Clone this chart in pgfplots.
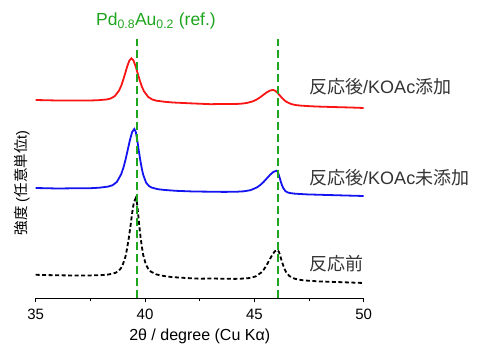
\documentclass[border=0pt]{standalone}
\usepackage{fontspec}
\setmainfont{Liberation Sans}
\newfontfamily\jp{Noto Sans CJK JP}
\usepackage{pgfplots}
\pgfplotsset{compat=1.18}
\definecolor{refgreen}{RGB}{30,165,30}
\definecolor{xred}{RGB}{250,20,20}
\definecolor{xblue}{RGB}{20,20,240}
\begin{document}
\begin{tikzpicture}
\path[use as bounding box] (-35.7pt,-46.7pt) rectangle (441.3pt,298.3pt);
\begin{axis}[
  at={(0,0)}, anchor=south west,
  scale only axis, width=328pt, height=258.8pt,
  xmin=35, xmax=50, ymin=46.7, ymax=305.5,
  axis x line*=bottom, axis y line=none,
  xtick={35,40,45,50}, minor xtick={37.5,42.5,47.5},
  tick align=outside, major tick length=4pt, minor tick length=3pt,
  x axis line style={-, line width=0.8pt},
  every tick/.style={line width=0.8pt, black},
  /pgf/number format/assume math mode=true,
  tick label style={font=\fontsize{15}{17}\selectfont},
  xticklabel style={yshift=-3.5pt},
  xlabel={2θ / degree (Cu Kα)},
  xlabel style={font=\fontsize{16}{18}\selectfont, at={(axis description cs:0.5,0)}, anchor=center, yshift=-38.5pt},
  clip=false,
]
% red: after reaction / KOAc added
\addplot[xred, line width=1.8pt] coordinates {
(35,245.0) (36,244.5) (36.72,244.5) (37.48,244.5) (37.86,244.8) (38.24,245.5) (38.43,246.5) (38.62,248.9) (38.81,254.4) (38.905,258.9) (39.0,264.9) (39.095,271.8) (39.19,278.9) (39.285,284.5) (39.38,286.7) (39.475,284.4) (39.57,278.7) (39.665,271.5) (39.76,264.5) (39.855,258.4) (39.95,253.8) (40.14,248.1) (40.33,245.5) (40.52,244.3) (40.9,243.2) (41.28,242.5) (42.04,241.7) (43,240.8) (43.45,241.0) (44.05,241.0) (44.35,241.2) (44.65,242.0) (44.95,243.8) (45.1,245.4) (45.25,247.5) (45.4,249.9) (45.55,252.4) (45.7,254.3) (45.85,255.1) (45.955,254.2) (46.06,252.1) (46.165,249.5) (46.27,246.9) (46.375,244.7) (46.48,243.0) (46.69,240.9) (46.9,239.9) (47.11,239.4) (47.53,238.8) (47.95,238.4) (48.7,237.9) (49.4,237.5) (50,237.0)
};
% blue: after reaction / no KOAc
\addplot[xblue, line width=1.8pt] coordinates {
(35,157.0) (36,156.5) (36.71,156.7) (37.51,156.8) (37.91,157.3) (38.31,158.4) (38.51,159.7) (38.71,163.0) (38.91,170.8) (39.01,177.2) (39.11,185.5) (39.21,195.2) (39.31,205.0) (39.41,213.0) (39.51,216.0) (39.58,212.9) (39.645,204.8) (39.71,194.9) (39.78,185.2) (39.85,176.7) (39.915,170.3) (40.05,162.3) (40.185,158.9) (40.32,157.3) (40.59,155.8) (40.86,155.1) (41.4,154.2) (42.21,153.5) (43,153.3) (43.62,153.1) (44.22,153.3) (44.52,153.7) (44.82,154.8) (45.12,157.6) (45.27,160.0) (45.42,163.0) (45.57,166.6) (45.72,170.2) (45.87,173.1) (46.02,174.3) (46.07,173.0) (46.12,170.0) (46.17,166.3) (46.22,162.6) (46.27,159.4) (46.32,157.0) (46.42,153.9) (46.52,152.6) (46.62,152.0) (46.82,151.4) (47.02,151.1) (47.42,150.6) (48.2,150.1) (49,149.6) (50,149.0)
};
% black dashed: before reaction
\addplot[black, line width=1.8pt, dash pattern=on 4pt off 2.5pt] coordinates {
(35,70.2) (36,69.7) (36.47,69.6) (37.4,69.5) (38.02,69.9) (38.33,70.5) (38.64,72.1) (38.795,74.0) (38.95,78.3) (39.105,88.3) (39.18,96.6) (39.26,107.3) (39.34,119.7) (39.415,132.6) (39.49,142.7) (39.57,146.7) (39.63,142.3) (39.685,131.4) (39.74,118.7) (39.80,107.0) (39.86,97.5) (39.915,90.2) (40.03,80.9) (40.145,76.2) (40.26,73.5) (40.49,70.8) (40.72,69.5) (41.18,68.0) (41.87,67.0) (42.5,66.3) (43,66.5) (44.09,66.1) (44.58,66.5) (44.825,67.1) (45.07,68.7) (45.315,72.5) (45.44,75.7) (45.56,79.9) (45.68,84.6) (45.805,89.6) (45.93,93.6) (46.05,95.1) (46.12,93.3) (46.185,89.1) (46.25,84.0) (46.32,79.5) (46.39,75.7) (46.455,72.8) (46.59,69.2) (46.725,67.3) (46.86,66.2) (47.13,65.0) (47.4,64.4) (47.94,63.6) (48.75,63.0) (50,62.0)
};
% reference lines Pd0.8Au0.2
\addplot[refgreen, line width=1.9pt, dash pattern=on 8pt off 4pt] coordinates {(39.62,46.7) (39.62,305.5)};
\addplot[refgreen, line width=1.9pt, dash pattern=on 8pt off 4pt] coordinates {(46.08,46.7) (46.08,305.5)};
% texts
\node[text=refgreen, font=\fontsize{17.5}{19}\selectfont, anchor=center] at (axis cs:40.5,324) {Pd\textsubscript{0.8}Au\textsubscript{0.2} (ref.)};
\node[anchor=west, inner sep=0pt, font=\fontsize{18}{20}\selectfont, text=black!80] at (axis cs:47.5,258.3) {{\jp 反応後}/KOAc{\jp 添加}};
\node[anchor=west, inner sep=0pt, font=\fontsize{18}{20}\selectfont, text=black!80] at (axis cs:47.5,167.5) {{\jp 反応後}/KOAc{\jp 未添加}};
\node[anchor=west, inner sep=0pt, font=\fontsize{18}{20}\selectfont, text=black!80] at (axis cs:47.5,81) {{\jp 反応前}};
\node[rotate=90, anchor=center, inner sep=0pt, font=\fontsize{14.5}{16}\selectfont] at (axis cs:34.37,162) {{\jp 強度} ({\jp 任意単位}t)};
\end{axis}
\end{tikzpicture}
\end{document}
